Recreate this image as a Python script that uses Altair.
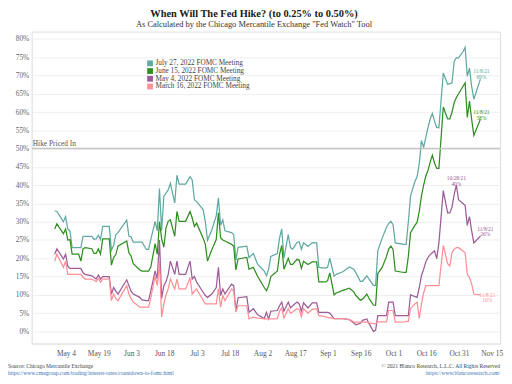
import altair as alt
import pandas as pd

dates = ["2021-04-27","2021-04-28","2021-05-01","2021-05-02","2021-05-03","2021-05-04","2021-05-05","2021-05-08","2021-05-09","2021-05-10",
"2021-05-11","2021-05-14","2021-05-15","2021-05-16","2021-05-17","2021-05-18","2021-05-19","2021-05-22","2021-05-23","2021-05-24",
"2021-05-25","2021-05-26","2021-05-30","2021-05-31","2021-06-01","2021-06-02","2021-06-05","2021-06-06","2021-06-08","2021-06-09",
"2021-06-10","2021-06-12","2021-06-13","2021-06-14","2021-06-15","2021-06-16","2021-06-17","2021-06-18","2021-06-19","2021-06-21",
"2021-06-22","2021-06-23","2021-06-26","2021-06-28","2021-06-29","2021-06-30","2021-07-01","2021-07-04","2021-07-05","2021-07-06",
"2021-07-08","2021-07-10","2021-07-11","2021-07-12","2021-07-13","2021-07-14","2021-07-17","2021-07-18","2021-07-19","2021-07-20",
"2021-07-24","2021-07-25","2021-07-27","2021-07-29","2021-08-01","2021-08-02","2021-08-03","2021-08-04","2021-08-07","2021-08-08",
"2021-08-09","2021-08-10","2021-08-12","2021-08-13","2021-08-14","2021-08-16","2021-08-17","2021-08-18","2021-08-19","2021-08-21",
"2021-08-23","2021-08-25","2021-08-26","2021-08-29","2021-08-30","2021-08-31","2021-09-02","2021-09-03","2021-09-06","2021-09-09",
"2021-09-11","2021-09-12","2021-09-14","2021-09-15","2021-09-17","2021-09-18","2021-09-20","2021-09-21","2021-09-22","2021-09-24",
"2021-09-26","2021-09-27","2021-09-28","2021-09-29","2021-09-30","2021-10-04","2021-10-05","2021-10-06","2021-10-07","2021-10-09",
"2021-10-10","2021-10-11","2021-10-12","2021-10-13","2021-10-14","2021-10-15","2021-10-16","2021-10-17","2021-10-18","2021-10-19",
"2021-10-20","2021-10-22","2021-10-24","2021-10-25","2021-10-26","2021-10-27","2021-10-28","2021-10-29","2021-10-31","2021-11-01",
"2021-11-02","2021-11-03","2021-11-04","2021-11-05","2021-11-08"]

jul27 = [33.0,32.8,30.0,31.4,28.0,27.5,22.9,22.9,22.9,26.0,
26.0,26.0,25.2,25.3,26.3,25.1,28.7,28.7,22.2,23.5,
26.5,27.0,30.4,26.0,25.8,24.4,24.4,24.4,22.4,22.4,
25.0,30.1,27.5,39.1,27.5,37.0,37.8,38.7,40.5,35.1,
42.7,40.3,40.3,42.3,41.4,36.0,35.5,33.3,30.0,24.9,
27.8,31.6,36.5,29.0,30.5,27.5,27.0,26.5,19.5,23.0,
23.3,20.2,21.3,18.3,16.5,15.2,17.0,20.5,21.3,25.5,
28.0,20.0,26.5,22.9,22.5,24.3,24.5,22.4,24.2,23.2,
24.3,24.2,17.5,17.3,17.5,20.0,15.1,15.6,16.3,17.6,
17.0,16.0,13.7,13.7,15.2,14.3,12.6,12.6,22.0,25.5,
28.5,29.5,30.1,29.2,24.2,23.8,23.8,30.0,37.0,41.0,
42.3,45.9,52.2,50.4,53.1,55.8,58.1,59.6,57.5,55.8,
55.7,70.7,67.6,67.8,68.0,73.9,74.8,74.8,76.5,77.7,
69.8,72.0,67.0,63.5,69.0]

jun15 = [28.0,29.4,26.7,28.0,25.0,25.1,21.1,21.1,19.2,22.6,
22.9,22.6,21.3,21.3,22.6,21.1,25.3,25.3,18.1,20.2,
21.0,23.3,24.7,21.5,20.6,18.5,16.8,16.5,16.5,16.5,
17.5,24.0,21.1,30.0,25.3,23.0,28.3,30.1,30.5,26.0,
32.8,30.1,30.1,32.8,31.0,28.7,29.6,25.5,23.8,19.2,
22.4,25.1,32.4,25.6,25.0,24.7,23.8,23.3,16.8,19.8,
20.2,17.0,17.5,15.0,12.0,11.1,12.5,15.0,16.5,21.0,
23.5,17.0,20.0,18.3,18.3,19.7,19.5,17.2,19.2,18.3,
19.0,19.0,13.5,13.5,13.8,16.0,10.0,10.5,11.2,11.8,
10.8,9.8,8.5,8.8,10.2,9.0,7.2,7.1,15.8,17.5,
20.5,22.5,23.3,22.4,16.5,16.1,16.1,20.5,27.0,29.0,
29.8,32.8,37.0,40.0,42.5,44.0,46.3,48.2,46.0,44.6,
44.6,61.4,58.1,58.1,60.0,62.6,64.0,65.0,67.0,68.0,
58.5,63.0,58.0,53.6,58.0]

may4 = [21.1,22.6,19.8,21.1,17.8,17.2,17.2,17.2,17.2,16.0,
15.6,15.2,14.8,14.3,15.4,14.3,15.0,15.0,10.2,12.0,
11.0,10.2,14.1,12.5,11.0,10.2,9.3,8.6,8.4,8.4,
11.0,16.5,14.3,25.0,9.0,12.5,13.6,15.6,19.2,15.6,
19.2,15.6,15.6,19.2,14.3,15.0,13.5,10.7,9.8,9.3,
10.2,12.0,17.5,9.8,11.6,10.2,12.9,12.5,5.5,9.2,
9.5,5.2,6.2,4.5,3.5,5.2,3.4,5.5,5.7,7.0,
8.0,5.5,8.0,6.4,7.0,8.0,7.5,5.5,7.8,6.4,
7.8,7.8,5.2,5.2,5.2,5.0,3.5,3.5,3.5,3.2,
2.3,1.8,2.2,3.0,3.4,2.1,0.0,0.3,4.3,4.3,
4.3,8.0,8.0,8.0,4.3,4.3,4.3,4.3,10.0,9.5,
9.3,12.0,15.2,17.0,19.0,20.2,21.0,21.5,22.0,19.9,
24.2,38.5,32.4,32.4,34.0,37.5,40.0,36.0,35.0,34.5,
29.0,31.4,27.5,24.2,26.0]

mar16 = [19.2,21.1,17.5,19.2,15.6,15.6,15.6,15.6,15.6,14.8,
14.3,14.3,14.0,13.6,14.5,13.4,14.3,14.3,8.4,10.2,
9.0,8.4,12.5,10.2,9.0,8.0,6.6,6.6,6.6,6.6,
9.0,15.2,12.5,19.2,3.9,7.5,10.0,11.6,14.3,11.6,
14.3,11.6,11.6,14.7,10.2,11.0,11.6,8.5,7.5,7.5,
7.5,7.5,11.6,6.6,9.8,8.4,11.6,11.0,5.3,7.0,
7.0,3.4,3.9,3.6,3.4,3.4,3.4,3.4,3.5,5.5,
6.4,3.6,6.2,5.0,5.3,6.2,6.0,4.0,6.2,5.0,
6.0,6.2,4.3,4.0,3.8,3.7,3.5,3.5,3.5,3.2,
2.6,2.5,2.5,2.5,2.5,2.3,2.1,2.1,2.6,2.6,
2.6,5.7,5.7,5.7,2.5,2.6,2.7,2.7,6.2,7.5,
8.0,3.5,7.5,10.5,12.5,12.5,12.5,12.5,12.5,12.5,
12.5,23.5,18.5,17.9,21.5,22.5,22.9,22.9,22.0,21.5,
15.6,14.7,13.0,10.2,10.0]

series_names = ["July 27, 2022 FOMC Meeting", "June 15, 2022 FOMC Meeting",
                "May 4, 2022 FOMC Meeting", "March 16, 2022 FOMC Meeting"]
series_colors = ["#5fa9a2", "#2e8f1f", "#9d5b97", "#ff8f97"]
y_ticks = list(range(0, 85, 5))
x_ticks = ["2021-05-04","2021-05-19","2021-06-03","2021-06-18","2021-07-03","2021-07-18","2021-08-02",
           "2021-08-17","2021-09-01","2021-09-16","2021-10-01","2021-10-16","2021-10-31","2021-11-15"]

# (date, value, text, colour, dx, dy)
end_labels = [
    ("2021-11-08", 69.0, "11/8/21\n69%", series_colors[0], 1, -8),
    ("2021-11-08", 58.0, "11/8/21\n58%", series_colors[1], 1, -7),
    ("2021-10-28", 40.0, "10/28/21\n40%", series_colors[2], 0, -7),
    ("2021-11-08", 26.0, "11/8/21\n26%", series_colors[2], 5, -7.5),
    ("2021-11-08", 10.0, "11/8/21\n10%", series_colors[3], 7, 0),
]

W, H = 473, 315
SERIF = "Liberation Serif"

def dt(s):
    y, m, d = s.split("-")
    return alt.DateTime(year=int(y), month=int(m), date=int(d))

rows = []
for name, vals in zip(series_names, [jul27, jun15, may4, mar16]):
    for d, v in zip(dates, vals):
        rows.append({"date": d + "T00:00:00", "series": name, "value": v})
df = pd.DataFrame(rows)

xscale = alt.Scale(domain=[alt.DateTime(year=2021, month=4, date=16, hours=12),
                           alt.DateTime(year=2021, month=11, date=17)], nice=False)
yscale = alt.Scale(domain=[-3.33, 82.0], nice=False, zero=False)

x_axis = alt.Axis(values=[dt(s) for s in x_ticks], format="%b %-d", ticks=False, title=None,
                  domain=True, domainColor="#e4e4e4", grid=False, labelOverlap=False,
                  labelFont=SERIF, labelFontSize=7.5, labelColor="#555",
                  labelPadding=6, labelOffset=-4)
y_axis = alt.Axis(values=y_ticks, labelExpr="datum.value + '%'", ticks=False, title=None,
                  domain=True, domainColor="#e8e8e8", grid=True, gridColor="#efefef",
                  labelOverlap=False,
                  labelFont=SERIF, labelFontSize=7.5, labelColor="#666", labelPadding=3)

def X(field):
    return alt.X(field, scale=xscale, axis=x_axis, title=None)

def Y(field):
    return alt.Y(field, scale=yscale, axis=y_axis, title=None)

lines = alt.Chart(df).mark_line(strokeWidth=1.25).encode(
    x=X("date:T"), y=Y("value:Q"),
    color=alt.Color("series:N", sort=series_names,
                    scale=alt.Scale(domain=series_names, range=series_colors), legend=None),
)

rule_df = pd.DataFrame({"v": [50]})
rule = alt.Chart(rule_df).mark_rule(color="#c4c4c4", strokeWidth=1.5).encode(y=Y("v:Q"))
hike = alt.Chart(rule_df).mark_text(align="left", baseline="middle", dy=-5, font=SERIF,
                                    fontSize=7.5, color="#555").encode(
    x=alt.value(1), y=Y("v:Q"), text=alt.value("Hike Priced In"))

layers = [lines, rule, hike]

# legend (top-left inside the plot)
for i, (name, col) in enumerate(zip(series_names, series_colors)):
    ldf = pd.DataFrame({"t": [name]})
    ly = 32 + 7.8 * i
    layers.append(alt.Chart(ldf).mark_square(size=34, opacity=1, color=col).encode(
        x=alt.value(119.5), y=alt.value(ly)))
    layers.append(alt.Chart(ldf).mark_text(align="left", baseline="middle", font=SERIF,
                                           fontSize=7.3, color="#444").encode(
        x=alt.value(125), y=alt.value(ly), text="t:N"))

for d, v, t, c, dx, dy in end_labels:
    ldf = pd.DataFrame({"date": [d + "T00:00:00"], "value": [v], "t": [t]})
    layers.append(alt.Chart(ldf).mark_text(align="center", baseline="middle",
                                           dx=dx, dy=dy, lineBreak="\n",
                                           font=SERIF, fontSize=5.5, color=c, lineHeight=5.5).encode(
        x=X("date:T"), y=Y("value:Q"), text="t:N"))

footer = [
    ("Source: Chicago Mercantile Exchange", -24, 338, "left", "#444"),
    ("https://www.cmegroup.com/trading/interest-rates/countdown-to-fomc.html", -24, 344.5, "left", "#3b73b9"),
    ("\u00a9 2021 Blanco Research, L.L.C. All Rights Reserved", W, 338, "right", "#444"),
    ("https://www.blancoresearch.com/", W, 344.5, "right", "#3b73b9"),
]
for t, fx, fy, al, c in footer:
    layers.append(alt.Chart(pd.DataFrame({"t": [t]})).mark_text(
        align=al, baseline="middle", font=SERIF, fontSize=5.6, color=c).encode(
        x=alt.value(fx), y=alt.value(fy), text="t:N"))

chart = alt.layer(*layers).properties(
    width=W, height=H,
    title=alt.TitleParams(
        text="When Will The Fed Hike? (to 0.25% to 0.50%)",
        subtitle='As Calculated by the Chicago Mercantile Exchange "Fed Watch" Tool',
        anchor="middle", dx=-12, font=SERIF, fontSize=10.5, fontWeight="bold", color="#1a1a1a",
        subtitleFont=SERIF, subtitleFontSize=8.5, subtitleColor="#333", subtitlePadding=1, offset=3),
    autosize=alt.AutoSizeParams(type="none"),
    padding={"left": 24, "top": 22, "right": 4, "bottom": 36},
).configure_view(stroke=None).configure(background="white")

chart.save("out.html", embed_options={"renderer": "svg", "actions": False})
